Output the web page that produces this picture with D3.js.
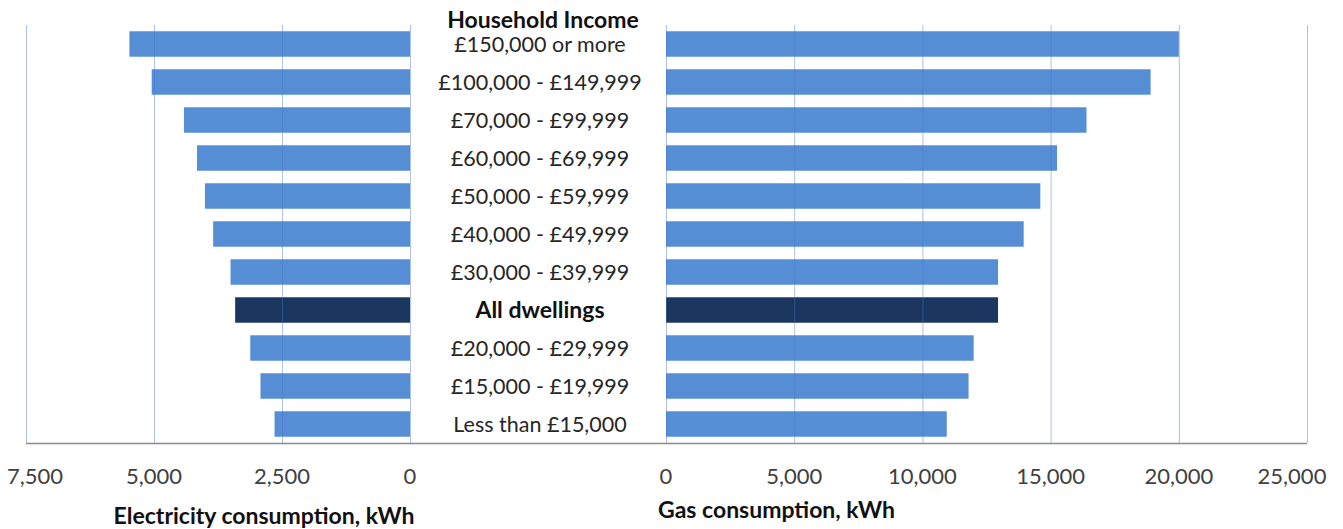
<!DOCTYPE html>
<html>
<head>
<meta charset="utf-8">
<script src="https://cdn.jsdelivr.net/npm/d3@7"></script>
<style>
  body { margin: 0; background: #fff; }
  svg { font-family: Lato, "Open Sans", sans-serif; }
  .cat { font-size: 21.5px; fill: #262626; }
  .tick-label { font-size: 22px; fill: #404040; }
  .title { font-size: 23px; font-weight: bold; fill: #111; }
</style>
</head>
<body>
<div id="chart"></div>
<script>
/* Two-sided bar chart: electricity (left) and gas (right) by household income */
const width = 1343, height = 529;

const categories = [
  "£150,000 or more", "£100,000 - £149,999", "£70,000 - £99,999",
  "£60,000 - £69,999", "£50,000 - £59,999", "£40,000 - £49,999",
  "£30,000 - £39,999", "All dwellings", "£20,000 - £29,999",
  "£15,000 - £19,999", "Less than £15,000"
];
const electricity = [5480, 5045, 4415, 4160, 4005, 3845, 3505, 3415, 3120, 2920, 2645];
const gas = [20000, 18900, 16400, 15250, 14600, 13950, 12950, 12950, 12000, 11800, 10950];
const elecTicks = [0, 2500, 5000, 7500];
const gasTicks = [0, 5000, 10000, 15000, 20000, 25000];

const svg = d3.select("#chart")
  .append("svg")
  .attr("width", width)
  .attr("height", height);

// scales
let y = d3.scaleBand()
  .domain(categories)
  .range([25, 443])
  .paddingInner(0.33)
  .paddingOuter(0.165);

let xL = d3.scaleLinear().domain([0, 7500]).range([410, 26]);
let xR = d3.scaleLinear().domain([0, 25000]).range([666, 1307]);

const barColor = d => d === "All dwellings" ? "#1b3760" : "#558ed5";

// left bars
svg.append("g")
  .selectAll("rect")
  .data(categories)
  .join("rect")
  .attr("x", (d, i) => xL(electricity[i]))
  .attr("y", d => y(d))
  .attr("width", (d, i) => xL(0) - xL(electricity[i]))
  .attr("height", y.bandwidth())
  .attr("fill", barColor);

// right bars
svg.append("g")
  .selectAll("rect")
  .data(categories)
  .join("rect")
  .attr("x", xR(0))
  .attr("y", d => y(d))
  .attr("width", (d, i) => xR(gas[i]) - xR(0))
  .attr("height", y.bandwidth())
  .attr("fill", barColor);

// gridlines sit on top of the bars, as in the original
const gridColor = "rgba(70,120,200,0.45)";
svg.append("g")
  .attr("transform", "translate(0,443)")
  .call(d3.axisBottom(xL).tickValues(elecTicks).tickSize(-418).tickFormat(""))
  .call(g => g.select(".domain").remove())
  .call(g => g.selectAll(".tick line").attr("stroke", gridColor));

svg.append("g")
  .attr("transform", "translate(0,443)")
  .call(d3.axisBottom(xR).tickValues(gasTicks).tickSize(-418).tickFormat(""))
  .call(g => g.select(".domain").remove())
  .call(g => g.selectAll(".tick line").attr("stroke", gridColor));

// baseline
svg.append("line")
  .attr("x1", xL(7500)).attr("x2", xR(25000))
  .attr("y1", 443.5).attr("y2", 443.5)
  .attr("stroke", "#8c8c8c")
  .attr("stroke-width", 1.5);

// tick labels (Excel nudges the outer ones inside the frame)
const fmt = d3.format(",");
svg.append("g")
  .selectAll("text")
  .data(elecTicks)
  .join("text")
  .attr("class", "tick-label")
  .attr("x", d => d === 7500 ? xL(d) + 9 : xL(d))
  .attr("y", 484)
  .attr("text-anchor", "middle")
  .text(fmt);

svg.append("g")
  .selectAll("text")
  .data(gasTicks)
  .join("text")
  .attr("class", "tick-label")
  .attr("x", d => d === 25000 ? xR(d) - 15 : xR(d))
  .attr("y", 484)
  .attr("text-anchor", "middle")
  .text(fmt);

// category labels
svg.append("g")
  .selectAll("text")
  .data(categories)
  .join("text")
  .attr("class", d => d === "All dwellings" ? "cat title" : "cat")
  .attr("x", 540)
  .attr("y", d => y(d) + y.bandwidth() / 2)
  .attr("dy", "0.35em")
  .attr("text-anchor", "middle")
  .text(d => d);

svg.append("text")
  .attr("class", "title")
  .attr("x", 543)
  .attr("y", 20)
  .attr("dy", "0.35em")
  .attr("text-anchor", "middle")
  .text("Household Income");

// axis titles
svg.append("text")
  .attr("class", "title")
  .attr("x", 264)
  .attr("y", 524)
  .attr("text-anchor", "middle")
  .text("Electricity consumption, kWh");

svg.append("text")
  .attr("class", "title")
  .attr("x", 658)
  .attr("y", 518)
  .text("Gas consumption, kWh");
</script>
</body>
</html>
